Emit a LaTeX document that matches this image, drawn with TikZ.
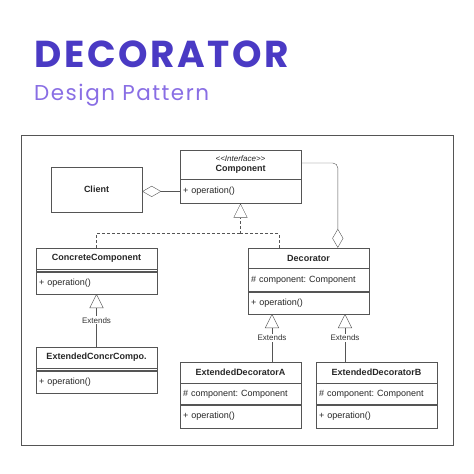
\documentclass[tikz,border=0pt]{standalone}
\usepackage{fontspec}
\setmainfont{Liberation Sans}
\newfontfamily\titlefont[LetterSpace=7]{Poppins}
\usepackage{tikz}
\usetikzlibrary{positioning,arrows.meta,calc}
\pgfdeclarelayer{bg}
\pgfsetlayers{bg,main}
\definecolor{titleblue}{RGB}{74,58,196}
\definecolor{subviolet}{RGB}{137,110,228}
\definecolor{umlline}{RGB}{85,85,85}
\tikzset{part/.style={draw=umlline, minimum width=121pt, inner xsep=3pt, inner ysep=0pt, text=black!85, font=\fontsize{9}{10.5}\selectfont\frenchspacing}}
\tikzset{head/.style={part, font=\fontsize{9}{10.5}\selectfont\bfseries}}
\tikzset{body/.style={part, text width=115pt, align=left}}
\tikzset{gap/.style={draw=umlline, minimum width=121pt, minimum height=2pt, inner sep=0pt}}
\tikzset{inherit/.style={draw=umlline, -{Triangle[open, length=14pt, width=14pt]}}}
\tikzset{realize/.style={draw=umlline, dash pattern=on 3pt off 2pt}}
\tikzset{aggr/.style={draw=umlline, -{Diamond[open, length=19pt, width=11pt]}}}
\tikzset{lbl/.style={fill=white, inner sep=1pt, text=black!80, font=\fontsize{8}{9.5}\selectfont}}

\begin{document}
\begin{tikzpicture}[x=1pt, y=-1pt, node distance=0pt]
    \useasboundingbox (0,0) rectangle (474,474);

    \node (title) at (34,67) [anchor=base west, inner sep=0pt, text=titleblue, font=\titlefont\bfseries\fontsize{37.5}{40}\selectfont] {DECORATOR};
    \node (subtitle) at (34,100) [anchor=base west, inner sep=0pt, text=subviolet, font=\titlefont\fontsize{21.5}{24}\selectfont] {Design Pattern};

    \draw[umlline] (21,135) rectangle (453,445);

    \node (client) at (96.5,189.5) [head, minimum width=91pt, minimum height=45pt] {Client};

    \node (comp) at (240.5,164.5) [head, minimum height=29pt, align=center] {{\mdseries\itshape\fontsize{8}{9.5}\selectfont <{}<Interface>{}>}\\Component};
    \node (comp-ops) [body, minimum height=24pt, below=of comp] {+ operation()};

    \node (cc) at (96.5,258.5) [head, minimum height=21pt] {ConcreteComponent};
    \node (cc-gap) [gap, below=of cc] {};
    \node (cc-ops) [body, minimum height=22pt, below=of cc-gap] {+ operation()};

    \node (ecc) at (96.5,357.5) [head, minimum height=21pt] {ExtendedConcrCompo.};
    \node (ecc-gap) [gap, below=of ecc] {};
    \node (ecc-ops) [body, minimum height=22pt, below=of ecc-gap] {+ operation()};

    \node (dec) at (308.5,258) [head, minimum height=20pt] {Decorator};
    \node (dec-att) [body, minimum height=23pt, below=of dec] {\# component: Component};
    \node (dec-ops) [body, minimum height=22pt, below=of dec-att] {+ operation()};

    \node (exta) at (240.5,372.5) [head, minimum height=21pt] {ExtendedDecoratorA};
    \node (exta-att) [body, minimum height=21pt, below=of exta] {\# component: Component};
    \node (exta-ops) [body, minimum height=23pt, below=of exta-att] {+ operation()};

    \node (extb) at (376.5,372.5) [head, minimum height=21pt] {ExtendedDecoratorB};
    \node (extb-att) [body, minimum height=21pt, below=of extb] {\# component: Component};
    \node (extb-ops) [body, minimum height=23pt, below=of extb-att] {+ operation()};

    \coordinate (fork) at ($(comp-ops.south)+(0,30)$);
    \coordinate (dec-real) at ($(dec.north west)+(31,0)$);
    \coordinate (dec-has) at ($(dec.north west)+(90,0)$);
    \coordinate (dec-a) at ($(dec-ops.south)+(-36.5,0)$);
    \coordinate (dec-b) at ($(dec-ops.south)+(36.5,0)$);

    \begin{pgfonlayer}{bg}
        \draw[aggr] (comp-ops.west) -- (comp-ops.west -| client.east);
        \draw[aggr, rounded corners=5pt] ($(comp.east)+(0,-1.5)$) -| (dec-has);
        \draw[realize] (cc.north) |- (fork);
        \draw[realize] (dec-real) |- (fork);
        \draw[realize, -{Triangle[open, length=14pt, width=14pt]}] (fork) -- (comp-ops.south);
        \draw[inherit] (ecc.north) -- node[lbl] {Extends} (cc-ops.south);
        \draw[inherit] (dec-a |- exta.north) -- node[lbl] {Extends} (dec-a);
        \draw[inherit] (dec-b |- extb.north) -- node[lbl] {Extends} (dec-b);
    \end{pgfonlayer}
\end{tikzpicture}
\end{document}
